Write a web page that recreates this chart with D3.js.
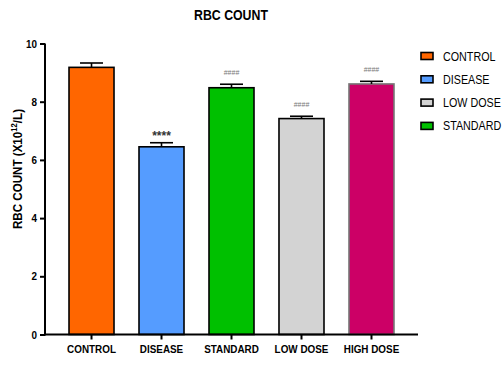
<!DOCTYPE html>
<html>
<head>
<meta charset="utf-8">
<script src="https://cdn.jsdelivr.net/npm/d3@7"></script>
<style>
  html, body { margin: 0; padding: 0; background: #fff; }
  svg { display: block; font-family: "Liberation Sans", Arial, sans-serif; }
</style>
</head>
<body>
<svg id="chart" width="503" height="365"></svg>
<script>
// Group names, mean RBC counts (x10^12/L) and their SEM
const groups = ["CONTROL", "DISEASE", "STANDARD", "LOW DOSE", "HIGH DOSE"];
const means = [9.18, 6.45, 8.48, 7.42, 8.61];
const sems = [0.15, 0.14, 0.12, 0.08, 0.09];
const marks = ["", "****", "####", "####", "####"];
const fills = ["#FF6600", "#559CFF", "#00C000", "#D3D3D3", "#CC0066"];
const borders = ["#000", "#000", "#000", "#000", "#777"];
const yTicks = [0, 2, 4, 6, 8, 10];
const legendNames = ["CONTROL", "DISEASE", "LOW DOSE", "STANDARD"];
const legendFills = ["#FF6600", "#559CFF", "#D3D3D3", "#00C000"];

// Horizontal squeeze applied to all text for a condensed look
const SQ = 0.86;

const svg = d3.select("#chart");

const x = d3.scaleBand()
  .domain(groups)
  .range([45, 418])
  .paddingInner(0.357)
  .paddingOuter(0.343);

const y = d3.scaleLinear().domain([0, 10]).range([334.5, 43.5]);

// Bars
svg.append("g").selectAll("rect")
  .data(groups)
  .join("rect")
  .attr("x", d => x(d))
  .attr("y", (d, i) => y(means[i]))
  .attr("width", x.bandwidth())
  .attr("height", (d, i) => y(0) - y(means[i]))
  .attr("fill", (d, i) => fills[i])
  .attr("stroke", (d, i) => borders[i])
  .attr("stroke-width", 1.6);

// Upper error bars
const err = svg.append("g").attr("stroke", "#000").attr("stroke-width", 1.6);
groups.forEach((g, i) => {
  const cx = x(g) + x.bandwidth() / 2;
  err.append("line")
    .attr("x1", cx).attr("x2", cx)
    .attr("y1", y(means[i])).attr("y2", y(means[i] + sems[i]));
  err.append("line")
    .attr("x1", cx - 11.5).attr("x2", cx + 11.5)
    .attr("y1", y(means[i] + sems[i])).attr("y2", y(means[i] + sems[i]));
});

// Significance marks
svg.append("g").selectAll("text")
  .data(groups)
  .join("text")
  .attr("x", d => x(d) + x.bandwidth() / 2)
  .attr("y", (d, i) => y(means[i] + sems[i]) - (marks[i] === "****" ? 2.5 : 9.5))
  .attr("text-anchor", "middle")
  .attr("font-size", (d, i) => marks[i] === "****" ? 12 : 7)
  .attr("font-weight", (d, i) => marks[i] === "****" ? "bold" : "normal")
  .attr("fill", (d, i) => marks[i] === "****" ? "#333" : "#777")
  .text((d, i) => marks[i]);

// Y axis
const yAxis = svg.append("g")
  .attr("transform", "translate(45,0)")
  .call(d3.axisLeft(y).tickValues(yTicks).tickSize(5).tickPadding(3).tickFormat(d3.format("d")));
yAxis.select(".domain").attr("stroke-width", 2).attr("d", `M0,${y(0) + 1}V${y(10)}`);
yAxis.selectAll(".tick line").attr("stroke-width", 2);
yAxis.selectAll(".tick text")
  .attr("font-size", 11.5).attr("font-weight", "bold").attr("fill", "#000")
  .attr("font-family", "Liberation Sans, Arial, sans-serif")
  .attr("x", -8 / SQ)
  .attr("transform", `scale(${SQ},1)`);

// X axis
const xAxis = svg.append("g")
  .attr("transform", `translate(0,${y(0)})`)
  .call(d3.axisBottom(x).tickSize(5).tickPadding(5).tickSizeOuter(0));
xAxis.select(".domain").attr("stroke-width", 2).attr("d", "M44,0H418");
xAxis.selectAll(".tick line").attr("stroke-width", 2);
xAxis.selectAll(".tick text")
  .attr("font-size", 11.5).attr("font-weight", "bold").attr("fill", "#000")
  .attr("font-family", "Liberation Sans, Arial, sans-serif")
  .attr("transform", `scale(${SQ},1)`);

// Title
svg.append("text")
  .attr("transform", `translate(231,20) scale(0.88,1)`)
  .attr("text-anchor", "middle")
  .attr("font-size", 14).attr("font-weight", "bold")
  .text("RBC COUNT");

// Y axis label
const yl = svg.append("text")
  .attr("transform", `translate(22,169) rotate(-90) scale(${SQ},1)`)
  .attr("text-anchor", "middle")
  .attr("font-size", 13.5).attr("font-weight", "bold");
yl.append("tspan").text("RBC COUNT (X10");
yl.append("tspan").attr("font-size", 9).attr("dy", -5).text("12");
yl.append("tspan").attr("dy", 5).text("/L)");

// Legend
const leg = svg.append("g");
legendNames.forEach((name, i) => {
  const cy = 56 + i * 23.3;
  leg.append("rect")
    .attr("x", 421).attr("y", cy - 3.5)
    .attr("width", 12).attr("height", 7)
    .attr("fill", legendFills[i])
    .attr("stroke", "#000").attr("stroke-width", 1.6);
  leg.append("text")
    .attr("transform", `translate(443,${cy + 4.5}) scale(${SQ},1)`)
    .attr("font-size", 12.5)
    .text(name);
});
</script>
</body>
</html>
